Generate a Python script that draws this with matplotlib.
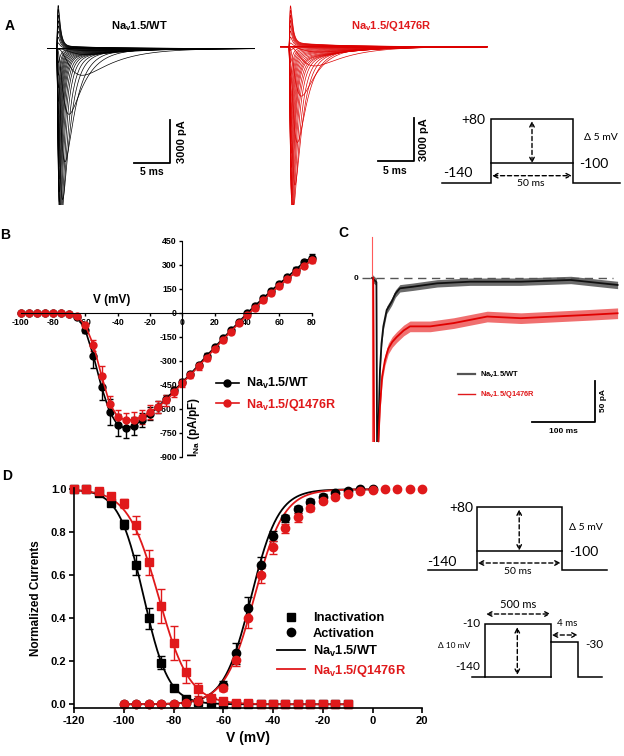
import numpy as np
import matplotlib
matplotlib.use("Agg")
import matplotlib.pyplot as plt
from matplotlib.lines import Line2D

plt.rcParams['font.family'] = ['Liberation Sans', 'DejaVu Sans']
plt.rcParams['axes.unicode_minus'] = False
plt.rcParams['mathtext.fontset'] = 'custom'
plt.rcParams['mathtext.rm'] = 'Liberation Sans'
plt.rcParams['mathtext.bf'] = 'Liberation Sans:bold'

W, H = 624, 756
RED = '#e0191b'
WT_LABEL = r'Na$_\mathbf{v}$1.5/WT'
MUT_LABEL = r'Na$_\mathbf{v}$1.5/Q1476R'

# ---------------- data ----------------
# B: current-voltage relation (pA/pF)
voltage_iv = [-100, -95, -90, -85, -80, -75, -70, -65, -60, -55, -50, -45, -40,
              -35, -30, -25, -20, -15, -10, -5, 0, 5, 10, 15, 20, 25, 30, 35,
              40, 45, 50, 55, 60, 65, 70, 75, 80]
wt_iv = [0, 0, 0, 0, 0, -2, -8, -25, -110, -270, -465, -620, -703, -723, -707,
         -672, -630, -589, -537, -486, -434, -383, -327, -269, -217, -161, -110,
         -58, -4, 45, 90, 138, 182, 223, 268, 314, 345]
wt_iv_err = [0, 0, 0, 0, 0, 2, 4, 8, 15, 75, 80, 80, 70, 60, 55, 45, 40, 35, 25,
             20, 15, 15, 15, 15, 12, 12, 10, 10, 10, 10, 12, 12, 12, 15, 15, 18, 20]
mut_iv = [0, 0, 0, 0, 0, -1, -5, -22, -79, -203, -393, -568, -651, -672, -668,
          -651, -620, -589, -548, -496, -438, -390, -335, -280, -225, -170, -118,
          -65, -15, 30, 78, 125, 168, 210, 252, 292, 328]
mut_iv_err = [0, 0, 0, 0, 0, 2, 4, 8, 15, 35, 60, 50, 45, 45, 45, 45, 45, 40, 35,
              30, 25, 20, 20, 20, 15, 12, 12, 12, 12, 12, 12, 12, 12, 15, 15, 15, 18]

# A: current families (same test potentials), kinetics estimated from the traces
tau_m_ms = [1.6, 1.6, 1.6, 1.6, 1.6, 1.6, 1.6, 1.8, 1.6, 0.75, 0.5, 0.35, 0.27,
            0.22, 0.19, 0.17, 0.15, 0.14, 0.13, 0.12, 0.11, 0.10, 0.095, 0.09,
            0.085, 0.08, 0.08, 0.08, 0.08, 0.08, 0.08, 0.08, 0.08, 0.08, 0.08,
            0.08, 0.08]
tau_h_ms = [8, 8, 8, 8, 8, 8, 8, 6, 4.5, 2.2, 1.5, 1.1, 0.9, 0.75, 0.65, 0.58,
            0.52, 0.48, 0.45, 0.42, 0.40, 0.38, 0.36, 0.35, 0.34, 0.33, 0.33,
            0.33, 0.33, 0.33, 0.33, 0.33, 0.33, 0.33, 0.33, 0.33, 0.33]
CM_INWARD_PF = 17.0     # inward peaks in A (pA) = density * Cm
CM_OUTWARD_PF = 8.7     # outward peaks in A only reach ~3000 pA
slow_fraction = {'wt': 0.03, 'mut': 0.05}

# C: persistent current (ms, pA), plus the width of the noise band (pA)
c_wt_t = [0, 7, 8.5, 10, 12.6, 15, 17.9, 23.2, 31, 37, 44, 65, 103, 155, 235, 314, 388]
c_wt_i = [0, -5, -300, -189, -112, -80, -59, -39, -29, -19, -12.6, -10.6, -6.5,
          -4.5, -4.5, -2.4, -8.5]
c_mut_t = [2, 4, 12.6, 16, 20.5, 25.8, 32, 39, 50, 60, 92, 129, 182, 235, 288, 341, 388]
c_mut_i = [0, -300, -157, -120, -100, -86, -78, -72, -64, -59, -59, -55, -47, -49,
           -47, -45, -43]
c_noise_pa = {'wt': 4.5, 'mut': 6.5}

# D: steady-state inactivation and activation (normalized)
v_inact = [-120, -115, -110, -105, -100, -95, -90, -85, -80, -75, -70, -65, -60,
           -55, -50, -45, -40, -35, -30, -25, -20, -15, -10]
wt_inact = [1.0, 1.0, 0.981, 0.938, 0.837, 0.648, 0.40, 0.194, 0.074, 0.026,
            0.012, 0.006, 0.003, 0.001, 0, 0, 0, 0, 0, 0, 0, 0, 0]
wt_inact_err = [0, 0, 0.005, 0.01, 0.02, 0.045, 0.05, 0.03, 0.012, 0.005, 0, 0,
                0, 0, 0, 0, 0, 0, 0, 0, 0, 0, 0]
mut_inact = [1.0, 1.0, 0.99, 0.969, 0.935, 0.834, 0.66, 0.457, 0.284, 0.152,
             0.07, 0.028, 0.014, 0.008, 0.004, 0.002, 0.001, 0, 0, 0, 0, 0, 0]
mut_inact_err = [0, 0, 0.005, 0.01, 0.02, 0.04, 0.06, 0.08, 0.08, 0.055, 0.03,
                 0.01, 0, 0, 0, 0, 0, 0, 0, 0, 0, 0, 0]
v_act_wt = [-100, -95, -90, -85, -80, -75, -70, -65, -60, -55, -50, -45, -40,
            -35, -30, -25, -20, -15, -10, -5, 0]
wt_act = [0, 0, 0, 0, 0.002, 0.006, 0.015, 0.03, 0.09, 0.237, 0.447, 0.648,
          0.783, 0.865, 0.907, 0.943, 0.966, 0.981, 0.992, 1.0, 1.0]
wt_act_err = [0, 0, 0, 0, 0, 0, 0, 0, 0.02, 0.05, 0.05, 0.035, 0.025, 0.015,
              0.015, 0.01, 0.01, 0, 0, 0, 0]
v_act_mut = [-100, -95, -90, -85, -80, -75, -70, -65, -60, -55, -50, -45, -40,
             -35, -30, -25, -20, -15, -10, -5, 0, 5, 10, 15, 20]
mut_act = [0, 0, 0, 0, 0.002, 0.005, 0.015, 0.03, 0.075, 0.206, 0.40, 0.60,
           0.73, 0.818, 0.87, 0.915, 0.945, 0.965, 0.98, 0.99, 0.995, 1.0, 1.0,
           1.0, 1.0]
mut_act_err = [0, 0, 0, 0, 0, 0, 0, 0, 0.015, 0.03, 0.045, 0.035, 0.03, 0.02,
               0.02, 0.015, 0.01, 0, 0, 0, 0, 0, 0, 0, 0]
# Boltzmann fit parameters (V1/2, k)
fit_inact = {'wt': (-92.0, 5.0), 'mut': (-86.0, 6.2)}
fit_act = {'wt': (-48.8, 5.5), 'mut': (-47.5, 5.9)}

# ---------------- figure ----------------
fig = plt.figure(figsize=(W / 100, H / 100), dpi=100)


def px_axes(x0, y0, x1, y1):
    return fig.add_axes([x0 / W, 1 - y1 / H, (x1 - x0) / W, (y1 - y0) / H])


# overlay in pixel units for labels and protocol sketches
ax_o = px_axes(0, 0, W, H)
ax_o.set_xlim(0, W)
ax_o.set_ylim(H, 0)
ax_o.axis('off')

for lab, x, y in [('A', 10, 26), ('B', 5, 235), ('C', 343, 233), ('D', 7, 476)]:
    ax_o.text(x, y, lab, fontsize=10, fontweight='bold', ha='center', va='center')


def step_line(xs, ys):
    ax_o.plot(xs, ys, color='black', lw=1.1, solid_joinstyle='miter')


def dashed_arrow(x0, y0, x1, y1):
    ax_o.annotate('', xy=(x1, y1), xytext=(x0, y0),
                  arrowprops=dict(arrowstyle='<->', linestyle=(0, (3, 2)), lw=1,
                                  color='black', shrinkA=0, shrinkB=0,
                                  mutation_scale=8))


def ptext(x, y, s, size, ha='left'):
    ax_o.text(x, y, s, fontsize=size, ha=ha, va='center', family='Lato')


def iv_protocol(x0, xl, xr, x1, ytop, ymid, ybase):
    step_line([x0, xl, xl, xr, xr, x1], [ybase, ybase, ytop, ytop, ybase, ybase])
    step_line([xl, xr], [ymid, ymid])
    xc = (xl + xr) / 2
    dashed_arrow(xc, ytop + 2, xc, ymid)
    dashed_arrow(xl + 1, ybase - 7, xr - 1, ybase - 7)


# A protocol
iv_protocol(442, 491, 573, 620, 119, 163.3, 182.7)
ptext(485, 120, '+80', 10, ha='right')
ptext(443, 173, '-140', 10)
ptext(579, 164, '-100', 10)
ptext(584, 138, 'Δ 5 mV', 7.5)
ptext(531, 184, '50 ms', 7.5, ha='center')

# D protocols
iv_protocol(428, 476.7, 561.7, 606.7, 507.3, 550.7, 570)
ptext(473, 508, '+80', 10, ha='right')
ptext(457, 562, '-140', 10, ha='right')
ptext(569, 552, '-100', 10)
ptext(569, 527, 'Δ 5 mV', 7.5)
ptext(518, 572, '50 ms', 7.5, ha='center')

step_line([471.7, 485, 485, 550.7, 550.7, 577.7, 577.7, 602.3],
          [676.7, 676.7, 624.3, 624.3, 641.7, 641.7, 676.7, 676.7])
step_line([550.7, 550.7], [641.7, 676.7])
step_line([485, 550.7], [676.7, 676.7])
dashed_arrow(486, 614, 550.7, 614)
dashed_arrow(517.3, 627, 517.3, 675)
dashed_arrow(551.7, 635, 577.7, 635)
ptext(518.3, 605, '500 ms', 8, ha='center')
ptext(480, 623.5, '-10', 8.5, ha='right')
ptext(480, 667, '-140', 8.5, ha='right')
ptext(454, 645, 'Δ 10 mV', 6, ha='center')
ptext(567.5, 624, '4 ms', 7, ha='center')
ptext(585, 644, '-30', 8.5)

# ---------------- A: current traces ----------------
t_trace = np.arange(-1.2, 27.9, 0.02)


def na_trace(t, amp, tm, th, slow):
    tt = np.clip(t, 0, None)
    g = (1 - np.exp(-tt / tm)) ** 3 * (np.exp(-tt / th) + slow * np.exp(-tt / 6.0))
    return amp * g / g.max()


PX_PER_MS = 7.1
PA_PER_PX = 69.8
panels_a = [
    ('wt', wt_iv, 'black', (44, 258), 56.7, 48.5, 15.9, 13.4, 17.65, WT_LABEL, 139),
    ('mut', mut_iv, '#dc0000', (277, 491), 289.0, 46.7, 17.6, 14.9, 19.0, MUT_LABEL, 391),
]
for key, dens, col, (xa, xb), t0px, basepx, bar_t, ms_t, pa_t, title, tx in panels_a:
    ax = px_axes(xa, 0, xb, 205)
    ax.set_xlim((xa - t0px) / PX_PER_MS, (xb - t0px) / PX_PER_MS)
    ax.set_ylim((basepx - 205) * PA_PER_PX, basepx * PA_PER_PX)
    ax.axis('off')
    for d, tm, th in zip(dens, tau_m_ms, tau_h_ms):
        amp = d * (CM_INWARD_PF if d < 0 else CM_OUTWARD_PF)
        ax.plot(t_trace, na_trace(t_trace, amp, tm, th, slow_fraction[key]),
                color=col, lw=0.5)
    ax.plot([bar_t - 5, bar_t, bar_t], [-8000, -8000, -5000], color='black', lw=1.3)
    ax.text(ms_t, -8300, '5 ms', fontsize=7.5, fontweight='bold', ha='center', va='top')
    ax.text(pa_t, -6500, '3000 pA', fontsize=8, fontweight='bold', rotation=90,
            ha='center', va='center')
    ax_o.text(tx, 26, title, fontsize=8, fontweight='bold', ha='center', va='center',
              color='black' if key == 'wt' else RED)

# ---------------- B: I-V ----------------
ax_b = px_axes(20.7, 240.7, 311.7, 456.7)
ax_b.set_xlim(-100, 80)
ax_b.set_ylim(-900, 450)
ax_b.errorbar(voltage_iv, wt_iv, yerr=wt_iv_err, fmt='-o', color='black', ms=5,
              lw=1.2, elinewidth=1, capsize=2.2, clip_on=False)
ax_b.errorbar(voltage_iv, mut_iv, yerr=mut_iv_err, fmt='-o', color=RED, ms=5,
              lw=1.2, elinewidth=1, capsize=2.2, clip_on=False)
for s in ['top', 'right']:
    ax_b.spines[s].set_visible(False)
ax_b.spines['left'].set_position(('data', 0))
ax_b.spines['bottom'].set_position(('data', 0))
ax_b.set_xticks(range(-100, 81, 20))
ax_b.set_yticks(range(-900, 451, 150))
ax_b.tick_params(labelsize=6.3, length=2.5, width=1, pad=1.5)
for lab in ax_b.get_xticklabels() + ax_b.get_yticklabels():
    lab.set_fontweight('bold')
ax_b.text(-44, 82, 'V (mV)', fontsize=8.5, fontweight='bold', ha='center', va='center')
ax_b.text(7, -711, r'I$_\mathbf{Na}$ (pA/pF)', fontsize=8.5, fontweight='bold',
          rotation=90, ha='center', va='center')
leg_b_handles = [Line2D([], [], color='black', lw=1.2, marker='o', ms=5),
                 Line2D([], [], color=RED, lw=1.2, marker='o', ms=5)]
leg_b = ax_b.legend(leg_b_handles, [WT_LABEL, MUT_LABEL], loc='upper left',
                    bbox_to_anchor=(216 / W, 1 - 376 / H),
                    bbox_transform=fig.transFigure, frameon=False, borderpad=0,
                    borderaxespad=0, handlelength=1.8, handletextpad=0.6,
                    labelspacing=0.45, prop={'weight': 'bold', 'size': 9.0})
leg_b.get_texts()[1].set_color(RED)

# ---------------- C: persistent current ----------------
ax_c = px_axes(352, 232, 622, 442)
ax_c.set_xlim((352 - 372) / 0.633, (622 - 372) / 0.633)
ax_c.set_ylim((278 - 442) / 0.82, (278 - 232) / 0.82)
ax_c.axis('off')
ax_c.plot([-15.8, 380.7], [0, 0], color='#555555', lw=1, dashes=(6, 4))
ax_c.plot([0, 0], [50, -260], color='#ff5a5a', lw=0.8)
for t_c, i_c, key, col, band in [(c_wt_t, c_wt_i, 'wt', '#111111', '#6b6b6b'),
                                 (c_mut_t, c_mut_i, 'mut', '#e00000', '#f07070')]:
    i_arr = np.array(i_c, dtype=float)
    ax_c.fill_between(t_c, i_arr - c_noise_pa[key], i_arr + c_noise_pa[key],
                      color=band, lw=0)
    ax_c.plot(t_c, i_c, color=col, lw=1.3)
ax_c.text(-26, 0, '0', fontsize=6, fontweight='bold', ha='center', va='center')
ax_c.plot([252, 352, 352], [-175, -175, -125], color='black', lw=1.3)
ax_c.text(302, -183, '100 ms', fontsize=6, fontweight='bold', ha='center', va='top')
ax_c.text(365, -150, '50 pA', fontsize=6, fontweight='bold', rotation=90,
          ha='center', va='center')
leg_c_handles = [Line2D([], [], color='#555555', lw=1.6), Line2D([], [], color=RED, lw=1)]
leg_c = ax_c.legend(leg_c_handles, [WT_LABEL, MUT_LABEL], loc='upper left',
                    bbox_to_anchor=(458 / W, 1 - 370 / H), bbox_transform=fig.transFigure,
                    frameon=False, borderpad=0, borderaxespad=0, handlelength=2.3,
                    handletextpad=0.6, labelspacing=1.2,
                    prop={'weight': 'bold', 'size': 5.4})
leg_c.get_texts()[1].set_color(RED)

# ---------------- D: inactivation / activation ----------------
ax_d = px_axes(74, 488.3, 422.3, 708.3)
ax_d.set_xlim(-120, 20)
ax_d.set_ylim(-0.0186, 1.0047)


def boltz(v, v_half, k):
    return 1.0 / (1.0 + np.exp((v - v_half) / k))


v_fit_inact = np.linspace(-120, -10, 300)
v_fit_act = np.linspace(-100, 0, 300)
for key, col in [('wt', 'black'), ('mut', RED)]:
    ax_d.plot(v_fit_inact, boltz(v_fit_inact, *fit_inact[key]), color=col, lw=1.3)
    vh, k = fit_act[key]
    ax_d.plot(v_fit_act, boltz(v_fit_act, vh, -k), color=col, lw=1.3)

eb = dict(elinewidth=1, capsize=3, clip_on=False, linestyle='none')
ax_d.errorbar(v_inact, wt_inact, yerr=wt_inact_err, fmt='s', color='black', ms=5.5, **eb)
ax_d.errorbar(v_act_wt, wt_act, yerr=wt_act_err, fmt='o', color='black', ms=6, **eb)
ax_d.errorbar(v_inact, mut_inact, yerr=mut_inact_err, fmt='s', color=RED, ms=5.5, **eb)
ax_d.errorbar(v_act_mut, mut_act, yerr=mut_act_err, fmt='o', color=RED, ms=6, **eb)

for s in ['top', 'right']:
    ax_d.spines[s].set_visible(False)
for s in ['left', 'bottom']:
    ax_d.spines[s].set_linewidth(1.2)
ax_d.set_xticks(range(-120, 21, 20))
ax_d.set_yticks([0.0, 0.2, 0.4, 0.6, 0.8, 1.0])
ax_d.set_yticklabels(['0.0', '0.2', '0.4', '0.6', '0.8', '1.0'])
ax_d.tick_params(labelsize=8, length=3.5, width=1.2, pad=2)
for lab in ax_d.get_xticklabels() + ax_d.get_yticklabels():
    lab.set_fontweight('bold')
ax_d.set_xlabel('V (mV)', fontsize=10, fontweight='bold', labelpad=4)
ax_d.set_ylabel('Normalized Currents', fontsize=8.5, fontweight='bold', labelpad=6)

leg_d_handles = [Line2D([], [], marker='s', ls='none', color='black', ms=5.5),
                 Line2D([], [], marker='o', ls='none', color='black', ms=6),
                 Line2D([], [], color='black', lw=1.3),
                 Line2D([], [], color=RED, lw=1.3)]
leg_d = ax_d.legend(leg_d_handles, ['Inactivation', 'Activation', WT_LABEL, MUT_LABEL],
                    loc='upper left', bbox_to_anchor=(277 / W, 1 - 612 / H),
                    bbox_transform=fig.transFigure, frameon=False, borderpad=0,
                    borderaxespad=0, handlelength=2.2, handletextpad=0.6,
                    labelspacing=0.3, prop={'weight': 'bold', 'size': 9.3})
leg_d.get_texts()[3].set_color(RED)

fig.savefig('out.png', dpi=100)
